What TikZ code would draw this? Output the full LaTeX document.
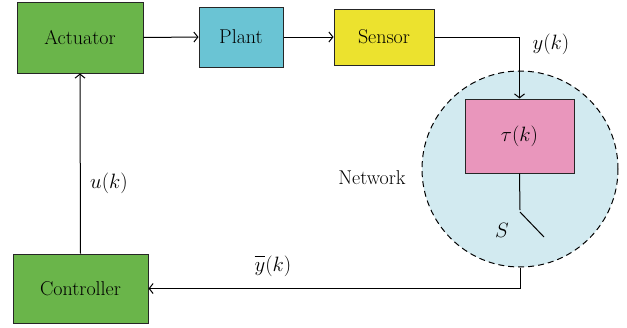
\documentclass[tikz,border=0pt]{standalone}
\usepackage{fontspec}
\usetikzlibrary{arrows.meta}
\definecolor{blockgreen}{HTML}{6AB54A}
\definecolor{plantblue}{HTML}{6AC4D4}
\definecolor{sensoryellow}{HTML}{ECE22E}
\definecolor{delaypink}{HTML}{E996BC}
\definecolor{netblue}{HTML}{D2EAF0}
\newcommand{\ybarsym}{\mbox{\rlap{\raisebox{14pt}{\rule{10pt}{1.4pt}}}$y$}}
\tikzset{
  blockbox/.style={draw=black!85, line width=1pt, rectangle, inner sep=0pt,
    font=\fontsize{20}{24}\selectfont},
  link/.style={line width=1pt, -{Straight Barb[length=4pt,width=10pt,line width=1pt]}},
  wire/.style={line width=1pt},
  lbl/.style={font=\fontsize{20}{24}\selectfont, inner sep=0pt},
}
\begin{document}
\begin{tikzpicture}[x=1pt,y=-1pt]
  \useasboundingbox (0,0) rectangle (627,327);
  % network cloud
  \node[circle, draw=black, dashed, dash pattern=on 6pt off 4pt, line width=1pt,
        fill=netblue, minimum size=196pt, inner sep=0pt] (net) at (520,169) {};
  % blocks
  \node[blockbox, fill=blockgreen, minimum width=126pt, minimum height=71pt] (act) at (80,37.5) {Actuator};
  \node[blockbox, fill=plantblue, minimum width=84pt, minimum height=60pt] (plant) at (241,37) {Plant};
  \node[blockbox, fill=sensoryellow, minimum width=100pt, minimum height=56pt] (sens) at (384,37) {Sensor};
  \node[blockbox, fill=delaypink, minimum width=109pt, minimum height=74pt] (tau) at (519.5,136) {$\tau(k)$};
  \node[blockbox, fill=blockgreen, minimum width=135pt, minimum height=69pt] (ctrl) at (80.5,288.5) {Controller};
  % switch
  \coordinate (swtop) at (520,210);
  \coordinate (bladeA) at (520,212);
  \coordinate (bladeB) at (544,237);
  % connectors
  \draw[link] (act.east) -- (plant.west);
  \draw[link] (plant.east) -- (sens.west);
  \draw[link] (sens.east) -| (tau.north);
  \draw[wire] (tau.south) -- (swtop);
  \draw[wire] (bladeA) -- (bladeB);
  \draw[link] (net.south) |- (ctrl.east);
  \draw[link] (ctrl.north) -- (act.south);
  % labels
  \node[lbl] (ylab) at (551,44) {$y(k)$};
  \node[lbl] (netlab) at (372,178) {Network};
  \node[lbl] (slab) at (502,230) {$S$};
  \node[lbl] (ulab) at (109,183) {$u(k)$};
  \node[lbl] (ybarlab) at (273,266) {\ybarsym$(k)$};
\end{tikzpicture}
\end{document}
